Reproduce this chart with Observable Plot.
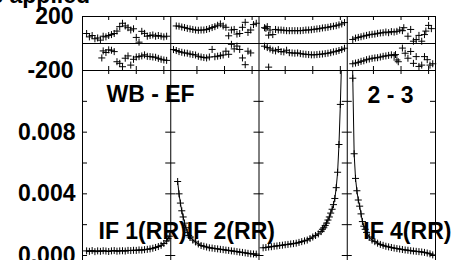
<!DOCTYPE html>
<html><head><meta charset="utf-8">
<script src="https://cdn.jsdelivr.net/npm/d3@7"></script>
<script src="https://cdn.jsdelivr.net/npm/@observablehq/plot@0.6"></script>
<style>
body{margin:0;background:#fff;}
#wrap{position:relative;width:469px;height:260px;overflow:hidden;font-family:"Liberation Sans",Arial,sans-serif;}
#wrap svg{position:absolute;left:0;top:0;}
#title{position:absolute;right:379px;top:-16px;font-size:23px;font-weight:bold;line-height:23px;white-space:nowrap;color:#000;}
</style></head><body>
<div id="wrap"><div id="title">Corrections applied</div></div>
<script>
const W = 469, H = 260;
const nChan = 64;
const ifNums = [1, 2, 3, 4];
const chanTicks = [20, 40, 60];
const phaseTicks = [-200, 200];
const ampLabelTicks = [0, 0.004, 0.008];
const ampMinorTicks = [0, 0.002, 0.004, 0.006, 0.008, 0.010];
const baselineLabel = "WB - EF";
const stokesLabel = "2 - 3";
const ifLabelNums = [1, 2, 4];
const ifLabels = ["IF 1(RR)", "IF 2(RR)", "IF 4(RR)"];

// phase (degrees), [channel, value]
const phaseUpper1 = [[4,74],[6,49],[8,59],[10,35],[12,41],[14,25],[16,54],[18,49],[20,59],[22,66],[24,74],[26,92],[28,125],[30,150],[32,130],[34,117],[36,100],[38,109],[40,45],[42,10],[44,90],[46,75],[48,54],[50,59],[52,63],[54,54],[56,59],[58,54],[60,49],[62,54]];
const phaseLower1 = [[15,-107],[16,-55],[18,-67],[20,-47],[22,-50],[24,-60],[26,-135],[28,-147],[30,-172],[32,-109],[34,-92],[36,-160],[38,-117],[40,-100],[42,-97],[44,-92],[46,-84],[48,-95],[50,-97],[52,-100],[54,-102],[56,-110],[58,-117],[60,-122],[62,-125]];
const phaseUpper2 = [[5,130],[7,128],[9,122],[11,118],[13,112],[15,108],[17,104],[19,100],[21,98],[23,100],[25,100],[27,104],[29,110],[31,118],[33,125],[35,135],[37,145],[39,130],[41,120],[43,57],[45,100],[47,104],[49,70],[51,74],[53,120],[55,157],[57,82],[59,100],[61,140],[63,150]];
const phaseLower2 = [[3,-45],[5,-52],[7,-60],[9,-65],[11,-70],[13,-72],[15,-78],[17,-82],[19,-85],[21,-95],[23,-100],[25,-104],[27,-107],[29,-100],[31,-44],[33,-98],[35,-94],[37,-90],[39,-85],[41,-57],[43,-80],[45,-6],[47,-40],[49,-19],[51,-44],[53,-107],[55,-157],[57,-57],[59,-70]];
const phaseUpper3 = [[5,117],[6,112],[7,125],[8,62],[9,100],[11,66],[13,104],[15,100],[17,100],[19,98],[21,95],[23,95],[25,95],[27,95],[29,95],[31,95],[33,97],[35,100],[37,100],[39,102],[41,105],[43,108],[45,110],[47,115],[49,117],[51,120],[53,125],[55,128],[57,132],[59,138],[61,145],[63,155]];
const phaseLower3 = [[5,-20],[7,-30],[8,-175],[9,-40],[11,-50],[13,-55],[15,-45],[17,-60],[19,-62],[21,-50],[23,-68],[25,-70],[27,-72],[29,-70],[31,-75],[33,-78],[35,-80],[37,-82],[39,-84],[41,-84],[43,-82],[45,-80],[47,-78],[49,-75],[51,-72],[53,-68],[55,-62],[57,-58],[59,-52],[61,-45],[63,-35]];
const phaseUpper4 = [[5,30],[7,40],[9,45],[11,50],[13,55],[15,60],[17,65],[19,68],[21,70],[23,75],[25,78],[27,80],[29,85],[31,80],[33,88],[35,85],[37,90],[39,100],[41,95],[42,117],[45,54],[47,104],[49,17],[51,29],[53,60],[55,17],[57,66],[58,92],[60,134],[62,110]];
const phaseLower4 = [[5,-150],[7,-145],[9,-140],[11,-132],[13,-128],[15,-120],[17,-115],[19,-110],[21,-107],[23,-105],[25,-100],[27,-95],[29,-92],[31,-88],[33,-84],[35,-90],[36,-82],[37,-122],[38,-135],[41,-34],[43,-72],[45,-109],[47,-59],[49,-147],[51,-97],[53,-170],[55,-160],[57,-97],[59,-120],[61,-160],[63,-150]];

// amplitude, [channel, value]
const amp1 = [[4,0.00030],[6,0.00027],[8,0.00032],[10,0.00025],[12,0.00030],[14,0.00027],[16,0.00031],[18,0.00029],[20,0.00026],[22,0.00030],[24,0.00032],[26,0.00028],[28,0.00030],[30,0.00031],[32,0.00029],[34,0.00033],[36,0.00032],[38,0.00034],[40,0.00033],[42,0.00036],[44,0.00035],[46,0.00038],[48,0.00040],[50,0.00043],[52,0.00047],[54,0.00052],[56,0.00058],[58,0.00066],[60,0.00078],[62,0.00095],[63,0.00110],[64,0.00125]];
const amp2 = [[6,0.0048],[7,0.0040],[8,0.0034],[9,0.0029],[10,0.0025],[11,0.0021],[12,0.0018],[13,0.0015],[14,0.0013],[15,0.0012],[17,0.0010],[19,0.00088],[21,0.00075],[23,0.00065],[25,0.00060],[27,0.00055],[29,0.00050],[31,0.00048],[33,0.00045],[35,0.00043],[37,0.00040],[39,0.00038],[41,0.00035],[43,0.00033],[45,0.00030],[47,0.00028],[49,0.00025],[51,0.00022],[53,0.00020],[55,0.00017],[57,0.00014],[59,0.00011],[61,0.00010],[63,0.00009]];
const amp3 = [[4,0.00050],[6,0.00052],[8,0.00055],[10,0.00057],[12,0.00060],[14,0.00062],[16,0.00065],[18,0.00067],[20,0.00070],[22,0.00072],[24,0.00075],[26,0.00077],[28,0.00080],[30,0.00085],[32,0.00090],[34,0.00095],[36,0.00100],[38,0.00110],[40,0.00120],[42,0.00130],[44,0.00140],[46,0.00155],[47,0.00170],[48,0.00180],[49,0.00195],[50,0.00210],[51,0.00230],[52,0.00250],[53,0.00275],[54,0.00300],[55,0.00330],[56,0.00370],[57,0.00440],[58,0.00540],[59,0.00720],[60,0.00980],[61,0.01300],[62,0.02000]];
const amp4 = [[4,0.0200],[5,0.0115],[6,0.0066],[7,0.0050],[8,0.0042],[9,0.0036],[10,0.0032],[11,0.0027],[12,0.0022],[13,0.0019],[14,0.0017],[15,0.0015],[17,0.0012],[19,0.0010],[21,0.00090],[23,0.00080],[25,0.00072],[27,0.00066],[29,0.00060],[31,0.00056],[33,0.00052],[35,0.00048],[37,0.00045],[39,0.00042],[41,0.00039],[43,0.00036],[45,0.00034],[47,0.00031],[49,0.00029],[51,0.00027],[53,0.00025],[55,0.00023],[57,0.00020],[59,0.00016],[61,0.00011],[63,0.00004]];

const phaseSeries = [[phaseUpper1, phaseLower1], [phaseUpper2, phaseLower2], [phaseUpper3, phaseLower3], [phaseUpper4, phaseLower4]];
const ampSeries = [amp1, amp2, amp3, amp4];

const gx = (ifn, ch) => (ifn - 1) * nChan + ch;
const xDomain = [gx(1, 1), gx(4, nChan + 1)];
const bounds = ifNums.map(i => gx(i, 1)).concat([xDomain[1]]);
const innerBounds = bounds.slice(1, -1);
const xTickPos = ifNums.flatMap(i => chanTicks.map(c => gx(i, c)));

const phaseRows = [];
phaseSeries.forEach((pair, k) => pair.forEach(arr => arr.forEach(([c, v]) => phaseRows.push({x: gx(k + 1, c), y: v}))));
const ampRows = [];
ampSeries.forEach((arr, k) => arr.forEach(([c, v]) => ampRows.push({ifn: k + 1, x: gx(k + 1, c), y: v})));

const font = "Liberation Sans, Arial, Helvetica, sans-serif";
const style = {background: "transparent", color: "#000", fontFamily: font, overflow: "visible"};
const mL = 82, mR = 34;
const phaseTop = 16, phaseBottom = 70;

const phasePlot = Plot.plot({
  width: W, height: H, marginLeft: mL, marginRight: mR, marginTop: phaseTop, marginBottom: H - phaseBottom,
  style,
  x: {domain: xDomain, axis: null},
  y: {domain: [-200, 200], axis: null},
  marks: [
    Plot.ruleY([-200, 0, 200], {stroke: "#000", strokeWidth: 1}),
    Plot.ruleX(bounds, {stroke: "#000", strokeWidth: 1}),
    Plot.ruleX(xTickPos, {stroke: "#000", insetBottom: (phaseBottom - phaseTop) - 4}),
    Plot.ruleX(xTickPos, {stroke: "#000", insetTop: (phaseBottom - phaseTop) - 4}),
    Plot.dot(phaseRows, {x: "x", y: "y", symbol: "plus", r: 2.4, stroke: "#000", strokeWidth: 1}),
    Plot.axisY(phaseTicks, {label: null, tickSize: 0, tickPadding: 9, fontSize: 23, fontWeight: "bold", fontFamily: font, tickFormat: d => String(d)})
  ]
});

const ampMax = 0.012, ampMin = -0.000324;
const ampFrameH = H - phaseBottom;
const midTickRows = innerBounds.flatMap(b => ampMinorTicks.map(t => ({b, t})));
const ifLabelRows = ifLabelNums.map((n, i) => ({x: gx(n, 1), label: ifLabels[i]}));

const ampPlot = Plot.plot({
  width: W, height: H, marginLeft: mL, marginRight: mR, marginTop: phaseBottom, marginBottom: 0,
  style,
  x: {domain: xDomain, axis: null},
  y: {domain: [ampMin, ampMax], axis: null},
  marks: [
    Plot.ruleX(bounds, {stroke: "#000", strokeWidth: 1}),
    Plot.ruleY([ampMax], {stroke: "#000"}),
    Plot.ruleX(xTickPos, {stroke: "#000", insetBottom: ampFrameH - 4}),
    Plot.ruleY(ampMinorTicks, {y: d => d, x1: () => xDomain[0], x2: () => xDomain[0], insetLeft: 0, insetRight: -5, stroke: "#000"}),
    Plot.ruleY(ampMinorTicks, {y: d => d, x1: () => xDomain[1], x2: () => xDomain[1], insetLeft: -5, insetRight: 0, stroke: "#000"}),
    Plot.ruleY(midTickRows, {y: "t", x1: "b", x2: "b", insetLeft: -5, insetRight: -5, stroke: "#000"}),
    Plot.line(ampRows, {x: "x", y: "y", z: "ifn", stroke: "#000", strokeWidth: 1, clip: true}),
    Plot.dot(ampRows, {x: "x", y: "y", symbol: "plus", r: 2.4, stroke: "#000", strokeWidth: 1, clip: true}),
    Plot.axisY(ampLabelTicks, {label: null, tickSize: 0, tickPadding: 7, fontSize: 23, fontWeight: "bold", fontFamily: font, tickFormat: d3.format(".3f")}),
    Plot.text([baselineLabel], {text: d => d, frameAnchor: "top-left", lineAnchor: "top", textAnchor: "start", dx: 24, dy: 15, fontSize: 23, fontWeight: "bold", fontFamily: font, fill: "#000"}),
    Plot.text([stokesLabel], {text: d => d, frameAnchor: "top-right", lineAnchor: "top", textAnchor: "end", dx: -22, dy: 16, fontSize: 23, fontWeight: "bold", fontFamily: font, fill: "#000"}),
    Plot.text(ifLabelRows, {x: "x", text: "label", frameAnchor: "top", lineAnchor: "top", textAnchor: "start", dx: 16, dy: 152, fontSize: 23, fontWeight: "bold", fontFamily: font, fill: "#000"})
  ]
});

const wrap = document.getElementById("wrap");
wrap.appendChild(phasePlot);
wrap.appendChild(ampPlot);
</script>
</body></html>
